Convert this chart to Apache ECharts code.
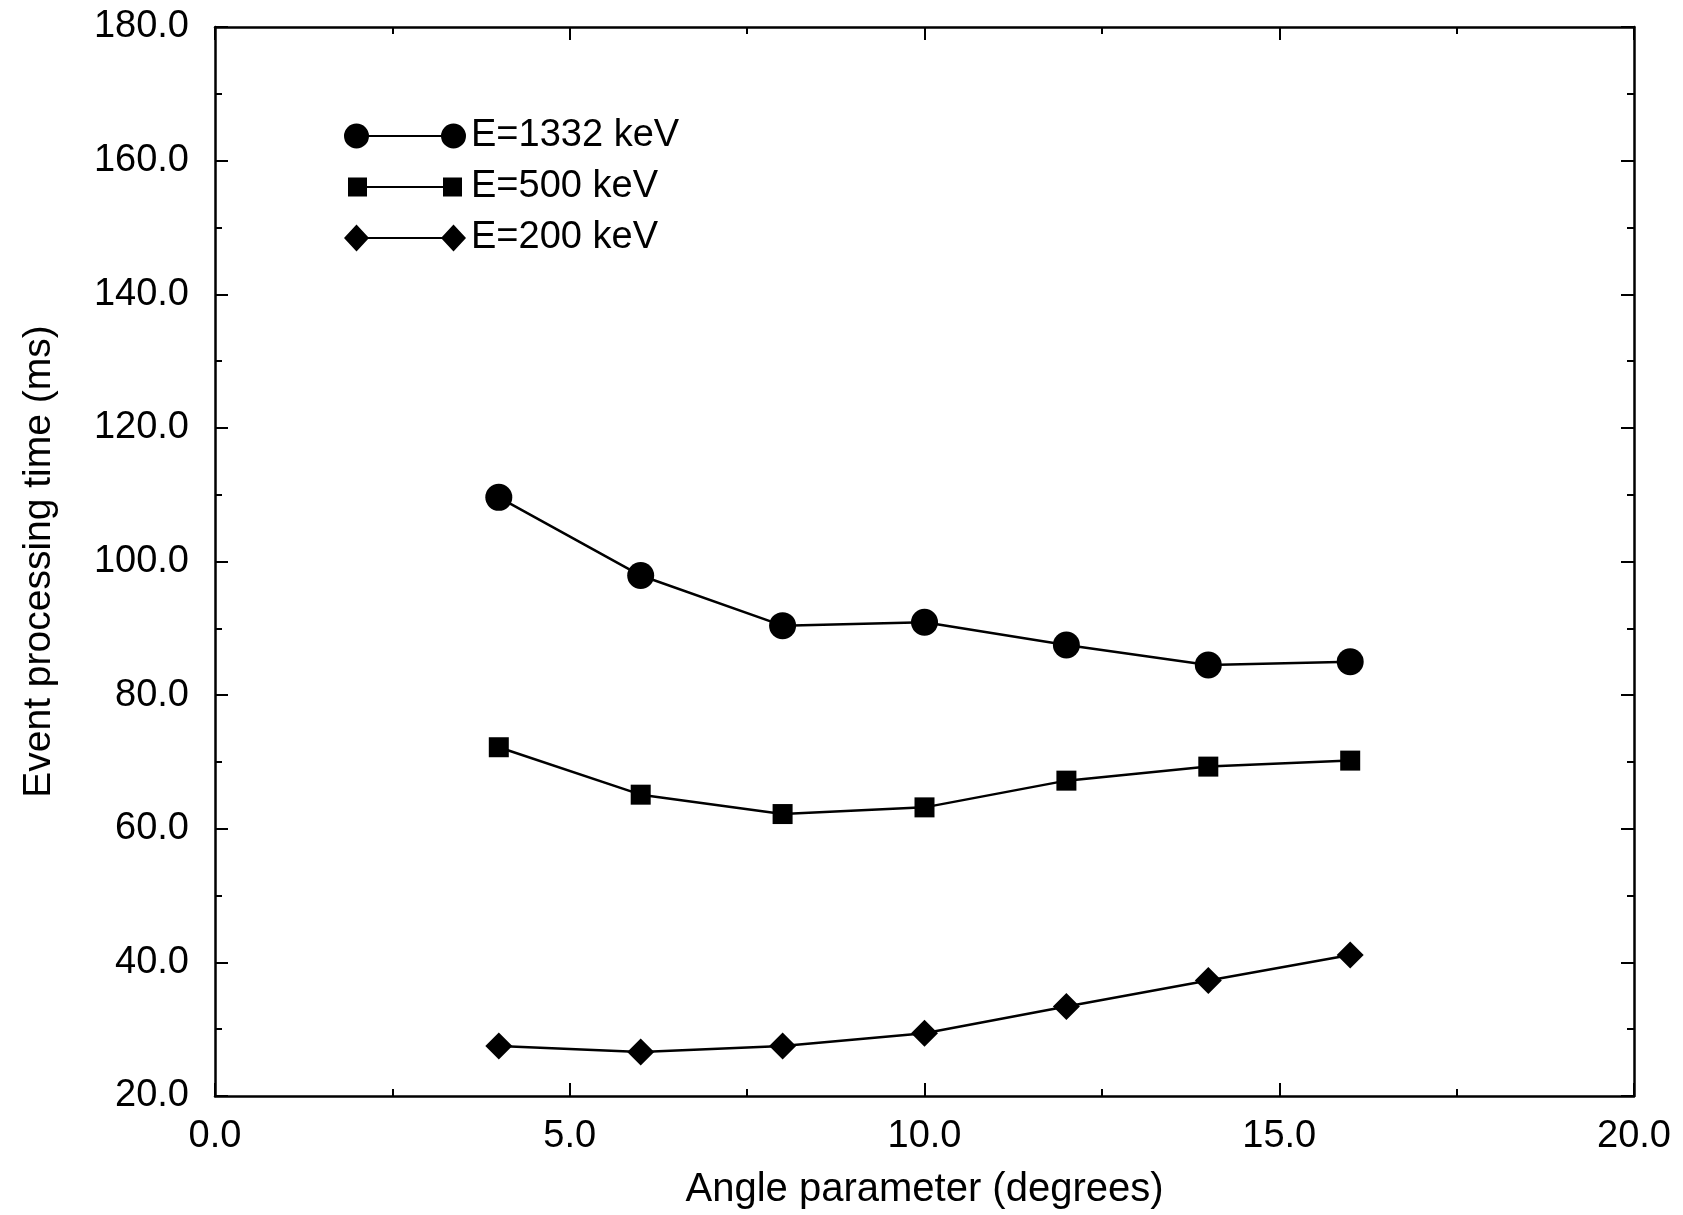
<!DOCTYPE html>
<html>
<head>
<meta charset="utf-8">
<script src="https://cdn.jsdelivr.net/npm/echarts@6/dist/echarts.min.js"></script>
<style>
html,body{margin:0;padding:0;background:#fff;}
#chart{width:1683px;height:1215px;}
</style>
</head>
<body>
<div id="chart"></div>
<script>
const angles = [4, 6, 8, 10, 12, 14, 16];
const e1332 = [109.6, 97.9, 90.4, 90.9, 87.5, 84.5, 85.0];
const e500 = [72.2, 65.1, 62.2, 63.2, 67.2, 69.3, 70.2];
const e200 = [27.5, 26.6, 27.5, 29.4, 33.4, 37.3, 41.1];
const seriesNames = ['E=1332 keV', 'E=500 keV', 'E=200 keV'];
const xTitle = 'Angle parameter (degrees)';
const yTitle = 'Event processing time (ms)';

const FONT = '"Liberation Sans", Arial, Helvetica, sans-serif';
const pair = ys => angles.map((x, i) => [x, ys[i]]);

// legend icons: marker — line — marker (box 122 x 27)
const circleIcon = 'path://M0,13.5A12.5,12.5 0 1,1 25,13.5A12.5,12.5 0 1,1 0,13.5Z M24,12.6L98,12.6L98,14.4L24,14.4Z M97,13.5A12.5,12.5 0 1,1 122,13.5A12.5,12.5 0 1,1 97,13.5Z M0,0L0.01,0L0.01,0.01Z M122,27L121.99,27L121.99,26.99Z';
const squareIcon = 'path://M4,4L23,4L23,23L4,23Z M22,12.6L100,12.6L100,14.4L22,14.4Z M99,4L118,4L118,23L99,23Z M0,0L0.01,0L0.01,0.01Z M122,27L121.99,27L121.99,26.99Z';
const diamondIcon = 'path://M0,13.5L12.5,0L25,13.5L12.5,27Z M24,12.6L98,12.6L98,14.4L24,14.4Z M97,13.5L109.5,0L122,13.5L109.5,27Z';

const axisCommon = {
  type: 'value',
  axisLine: { show: true, onZero: false, lineStyle: { color: '#000', width: 2.5 } },
  axisTick: { show: true, inside: true, length: 13, lineStyle: { color: '#000', width: 2 } },
  minorTick: { show: true, splitNumber: 2, length: 7, lineStyle: { color: '#000', width: 2 } },
  splitLine: { show: false },
  minorSplitLine: { show: false }
};

const option = {
  backgroundColor: '#fff',
  animation: false,
  grid: { left: 215, right: 49, top: 27, bottom: 115, containLabel: false },
  legend: {
    orient: 'vertical',
    left: 339,
    top: 112,
    itemWidth: 122,
    itemHeight: 27,
    itemGap: 13,
    symbolKeepAspect: true,
    textStyle: { fontFamily: FONT, fontSize: 38, color: '#000' },
    data: [
      { name: seriesNames[0], icon: circleIcon },
      { name: seriesNames[1], icon: squareIcon },
      { name: seriesNames[2], icon: diamondIcon }
    ]
  },
  xAxis: [
    Object.assign({}, axisCommon, {
      position: 'bottom',
      min: 0, max: 20, interval: 5,
      name: xTitle,
      nameLocation: 'middle',
      nameGap: 74,
      nameTextStyle: { fontFamily: FONT, fontSize: 40, color: '#000' },
      axisLabel: { margin: 22, fontFamily: FONT, fontSize: 38, color: '#000', formatter: v => v.toFixed(1) }
    }),
    Object.assign({}, axisCommon, {
      position: 'top',
      min: 0, max: 20, interval: 5,
      axisLabel: { show: false }
    })
  ],
  yAxis: [
    Object.assign({}, axisCommon, {
      position: 'left',
      min: 20, max: 180, interval: 20,
      name: yTitle,
      nameLocation: 'middle',
      nameGap: 156,
      nameRotate: 90,
      nameTextStyle: { fontFamily: FONT, fontSize: 39, color: '#000' },
      axisLabel: { margin: 26, fontFamily: FONT, fontSize: 38, color: '#000', formatter: v => v.toFixed(1) }
    }),
    Object.assign({}, axisCommon, {
      position: 'right',
      min: 20, max: 180, interval: 20,
      axisLabel: { show: false }
    })
  ],
  series: [
    {
      name: seriesNames[0], type: 'line', xAxisIndex: 0, yAxisIndex: 0,
      data: pair(e1332), symbol: 'circle', symbolSize: 27,
      itemStyle: { color: '#000' }, lineStyle: { color: '#000', width: 2.5 }
    },
    {
      name: seriesNames[1], type: 'line', xAxisIndex: 0, yAxisIndex: 0,
      data: pair(e500), symbol: 'rect', symbolSize: 20,
      itemStyle: { color: '#000' }, lineStyle: { color: '#000', width: 2.5 }
    },
    {
      name: seriesNames[2], type: 'line', xAxisIndex: 0, yAxisIndex: 0,
      data: pair(e200), symbol: 'diamond', symbolSize: [27, 27],
      itemStyle: { color: '#000' }, lineStyle: { color: '#000', width: 2.5 }
    }
  ]
};

const chart = echarts.init(document.getElementById('chart'), null, { renderer: 'canvas' });
chart.setOption(option);
</script>
</body>
</html>
